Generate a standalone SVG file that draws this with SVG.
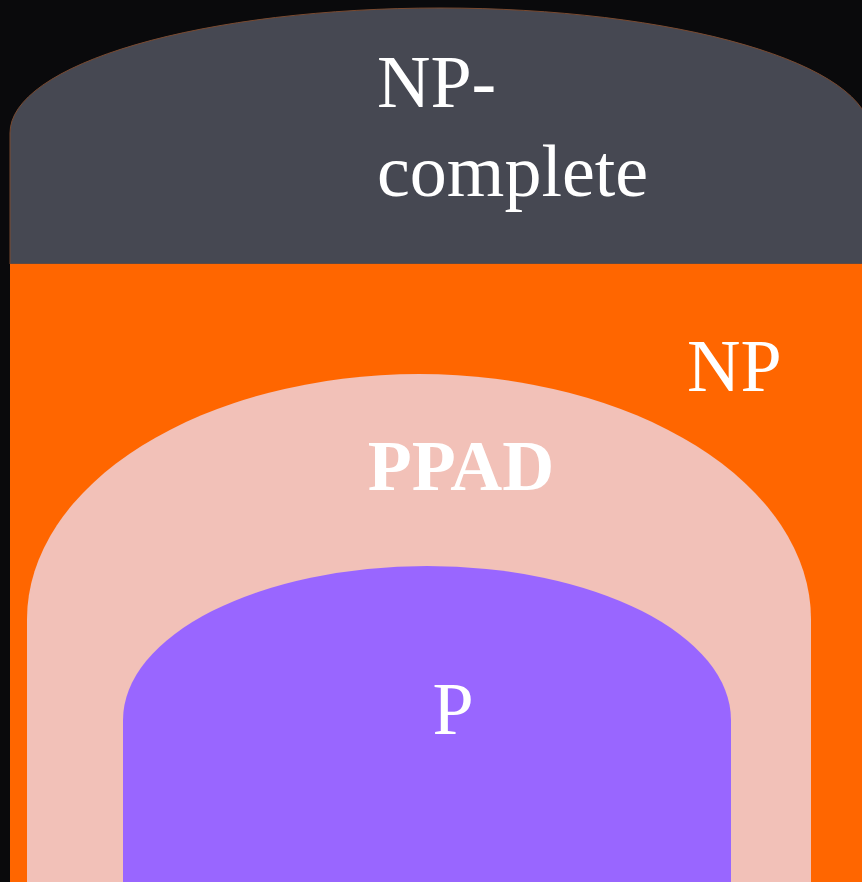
<svg xmlns="http://www.w3.org/2000/svg" width="862" height="882" viewBox="0 0 862 882">
  <style>
    .lbl { font-family: "Liberation Serif", "Times New Roman", serif; fill: #ffffff; font-size: 74px; }
    .bold { font-weight: bold; font-size: 72px; }
  </style>
  <rect x="0" y="0" width="862" height="882" fill="#0a0a0c"/>
  <g id="np-complete">
    <path d="M10,264 V133 A430,125 0 0 1 870,133 V264 Z" fill="#464852" stroke="#7a4a30" stroke-width="1"/>
    <text class="lbl" x="377" y="107">NP-</text>
    <text class="lbl" x="377" y="196">complete</text>
  </g>
  <g id="np">
    <rect x="10" y="264" width="860" height="630" fill="#ff6600"/>
    <text class="lbl" x="687" y="391">NP</text>
  </g>
  <g id="ppad">
    <path d="M27,890 V619 A392,245 0 0 1 811,619 V890 Z" fill="#f2c1b8"/>
    <text class="lbl bold" x="461" y="490" text-anchor="middle">PPAD</text>
  </g>
  <g id="p">
    <path d="M123,890 V720 A304,154 0 0 1 731,720 V890 Z" fill="#9966ff"/>
    <text class="lbl" x="453" y="734" text-anchor="middle">P</text>
  </g>
  <g id="connectors"/>
</svg>
